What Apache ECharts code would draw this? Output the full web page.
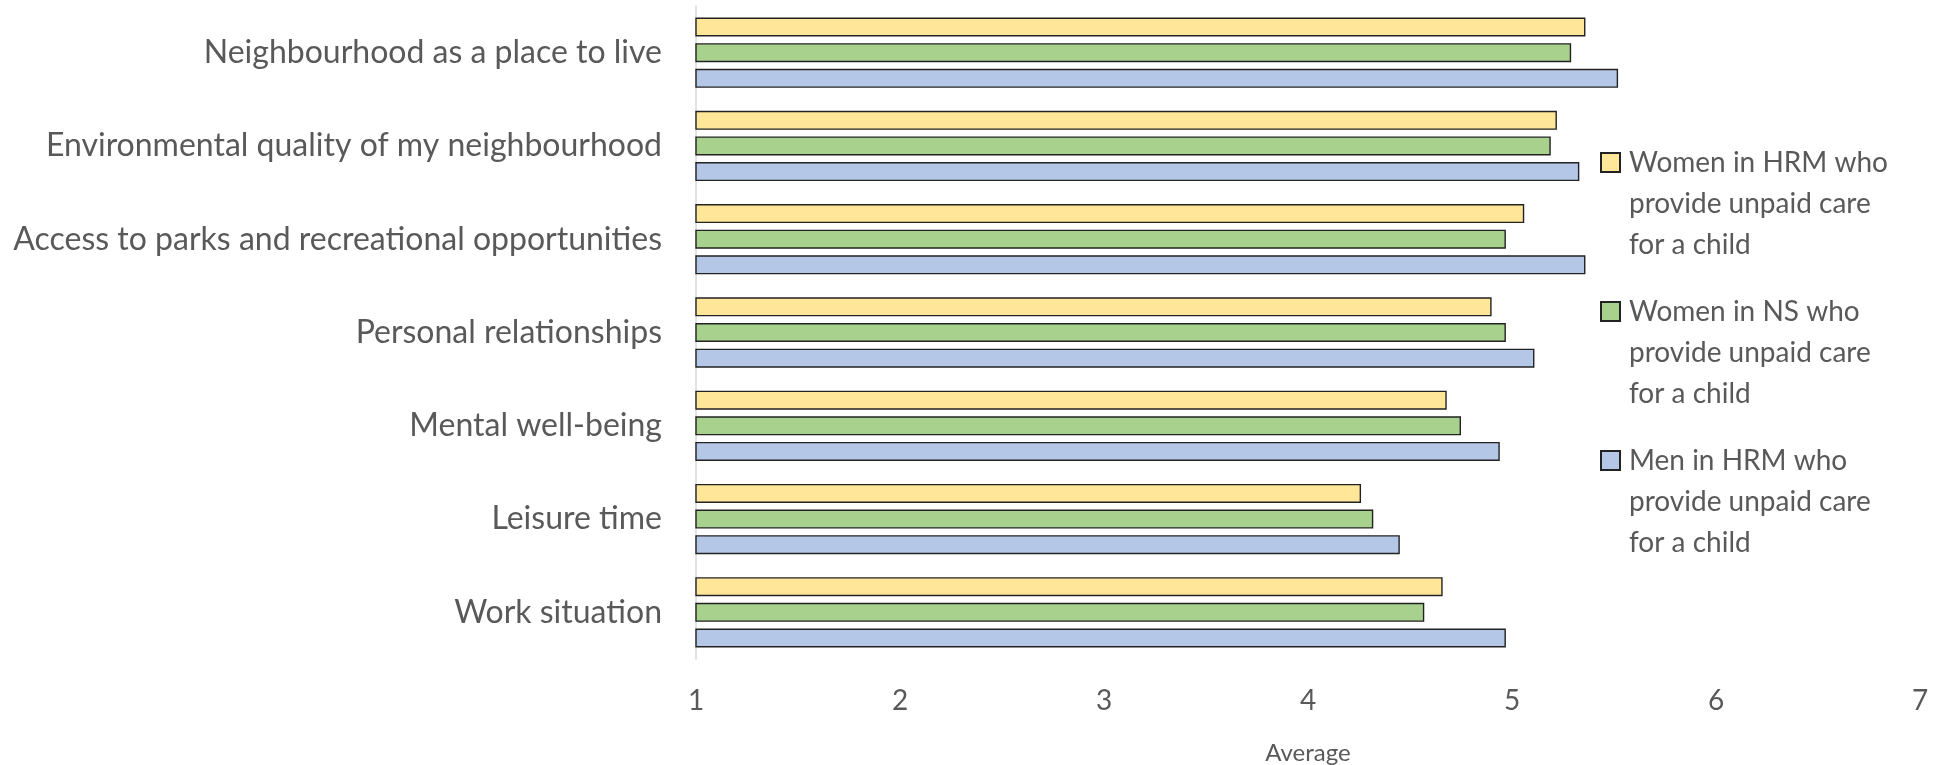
<!DOCTYPE html>
<html>
<head>
<meta charset="utf-8">
<script src="https://cdn.jsdelivr.net/npm/echarts@6/dist/echarts.min.js"></script>
<style>
html,body{margin:0;padding:0;background:#fff;}
#chart{width:1944px;height:765px;}
</style>
</head>
<body>
<div id="chart"></div>
<script>
const categories = [
  "Neighbourhood as a place to live",
  "Environmental quality of my neighbourhood",
  "Access to parks and recreational opportunities",
  "Personal relationships",
  "Mental well-being",
  "Leisure time",
  "Work situation"
];
const seriesNames = [
  "Women in HRM who provide unpaid care for a child",
  "Women in NS who provide unpaid care for a child",
  "Men in HRM who provide unpaid care for a child"
];
const legendLabels = [
  "Women in HRM who\nprovide unpaid care\nfor a child",
  "Women in NS who\nprovide unpaid care\nfor a child",
  "Men in HRM who\nprovide unpaid care\nfor a child"
];
const womenHRM = [5.36, 5.22, 5.06, 4.90, 4.68, 4.26, 4.66];
const womenNS  = [5.29, 5.19, 4.97, 4.97, 4.75, 4.32, 4.57];
const menHRM   = [5.52, 5.33, 5.36, 5.11, 4.94, 4.45, 4.97];
const xTicks = [1, 2, 3, 4, 5, 6, 7];
const colors = ["#FFE699", "#A9D18E", "#B4C7E7"];

const FONT = "Lato";
const TXT = "#595959";
const values = [womenHRM, womenNS, menHRM];

const chart = echarts.init(document.getElementById('chart'), null, {renderer: 'canvas'});
chart.setOption({
  animation: false,
  textStyle: {fontFamily: FONT},
  grid: {left: 696, right: 24, top: 6, bottom: 106, containLabel: false, outerBoundsMode: 'none'},
  legend: {
    orient: 'vertical',
    left: 1600,
    top: 60,
    padding: 0,
    icon: 'rect',
    itemWidth: 19,
    itemHeight: 19,
    itemGap: -56,
    data: seriesNames,
    // two leading blank lines keep the first text line level with the swatch
    formatter: function (name) { return "\n\n" + legendLabels[seriesNames.indexOf(name)]; },
    textStyle: {
      fontFamily: FONT, fontSize: 28, color: TXT, lineHeight: 41,
      padding: [0, 0, 0, 4]
    }
  },
  xAxis: {
    type: 'value',
    min: xTicks[0],
    max: xTicks[xTicks.length - 1],
    interval: 1,
    axisLine: {show: false},
    axisTick: {show: false},
    splitLine: {show: false},
    axisLabel: {fontFamily: FONT, fontSize: 28, color: TXT, margin: 28},
    name: 'Average',
    nameLocation: 'middle',
    nameGap: 82,
    nameTextStyle: {fontFamily: FONT, fontSize: 24, color: TXT}
  },
  yAxis: {
    type: 'category',
    inverse: true,
    data: categories,
    axisLine: {show: true, lineStyle: {color: '#D9D9D9', width: 1.5}},
    axisTick: {show: false},
    axisLabel: {fontFamily: FONT, fontSize: 32, color: TXT, margin: 34}
  },
  series: seriesNames.map(function (n, i) {
    return {
      name: n,
      type: 'bar',
      data: values[i],
      barWidth: 19,
      barGap: '35%',
      itemStyle: {color: colors[i], borderColor: '#222222', borderWidth: 1.4}
    };
  })
});
</script>
</body>
</html>
